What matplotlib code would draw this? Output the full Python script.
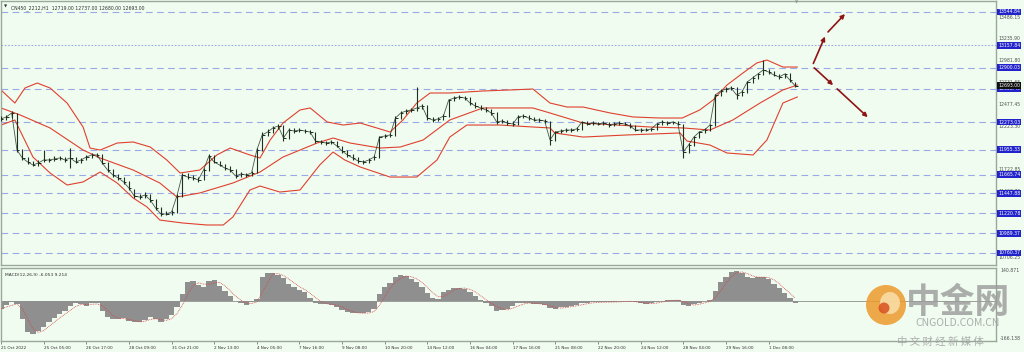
import numpy as np
import pandas as pd
import matplotlib
matplotlib.use('Agg')
import matplotlib.pyplot as plt
from matplotlib.patches import Ellipse

# values (H1 bars, one entry per bar)
header = 'CN450_2212,H1  12719.00 12737.00 12680.00 12693.00'
macd_title = 'MACD(12,26,9) -6.053 9.214'

close = [12309, 12332, 12378, 11950, 11858, 11812, 11777, 11800, 11835, 11835,
         11846, 11858, 11835, 11858, 11812, 11835, 11869, 11893, 11893, 11800,
         11719, 11661, 11627, 11581, 11511, 11419, 11407, 11430, 11373, 11280,
         11211, 11211, 11234, 11419, 11661, 11638, 11627, 11604, 11719, 11881,
         11812, 11777, 11742, 11719, 11650, 11673, 11661, 11685, 11950, 12124,
         12158, 12205, 12228, 12089, 12181, 12170, 12181, 12170, 12158, 12054,
         12043, 12031, 12043, 11997, 11939, 11893, 11858, 11823, 11812, 11835,
         11869, 12100, 12112, 12124, 12320, 12378, 12401, 12413, 12436, 12459,
         12320, 12297, 12309, 12343, 12528, 12551, 12563, 12551, 12493, 12459,
         12436, 12413, 12378, 12274, 12285, 12262, 12251, 12332, 12343, 12320,
         12297, 12297, 12285, 12066, 12158, 12170, 12181, 12181, 12193, 12274,
         12251, 12262, 12251, 12262, 12239, 12251, 12262, 12251, 12228, 12181,
         12181, 12181, 12193, 12251, 12274, 12262, 12274, 12251, 11927, 12008,
         12100, 12158, 12181, 12239, 12586, 12632, 12655, 12667, 12586, 12620,
         12736, 12782, 12828, 12875, 12852, 12817, 12794, 12828, 12759, 12693]

high = [12345, 12360, 12400, 12380, 11960, 11870, 11820, 11830, 11950, 11860,
        11880, 11880, 11870, 11973, 11865, 11860, 11895, 11920, 11915, 11900,
        11810, 11730, 11670, 11640, 11590, 11500, 11440, 11460, 11440, 11380,
        11290, 11240, 11260, 11440, 11680, 11680, 11660, 11640, 11740, 11900,
        11890, 11820, 11790, 11760, 11730, 11700, 11690, 11710, 11970, 12160,
        12190, 12230, 12255, 12240, 12200, 12200, 12205, 12195, 12185, 12160,
        12070, 12060, 12065, 12050, 12000, 11945, 11900, 11865, 11840, 11860,
        11890, 12115, 12135, 12150, 12340, 12400, 12425, 12440, 12678, 12480,
        12465, 12330, 12330, 12365, 12545, 12575, 12585, 12575, 12560, 12500,
        12470, 12445, 12420, 12385, 12310, 12295, 12280, 12350, 12365, 12350,
        12330, 12320, 12310, 12290, 12175, 12190, 12200, 12205, 12215, 12290,
        12280, 12280, 12275, 12280, 12270, 12270, 12285, 12275, 12260, 12235,
        12200, 12205, 12210, 12265, 12295, 12285, 12290, 12280, 12255, 12030,
        12115, 12175, 12200, 12255, 12600, 12650, 12675, 12690, 12675, 12640,
        12750, 12800, 12845, 12990, 12885, 12860, 12830, 12845, 12835, 12737]

low = [12280, 12300, 12320, 11930, 11830, 11790, 11760, 11770, 11812, 11810,
       11820, 11830, 11815, 11742, 11795, 11800, 11830, 11860, 11870, 11790,
       11700, 11640, 11600, 11560, 11490, 11400, 11385, 11400, 11350, 11260,
       11190, 11195, 11205, 11225, 11410, 11620, 11600, 11585, 11600, 11710,
       11795, 11760, 11720, 11700, 11630, 11640, 11640, 11655, 11680, 11940,
       12110, 12150, 12195, 12060, 12080, 12150, 12160, 12150, 12140, 12030,
       12020, 12010, 12020, 11980, 11920, 11875, 11840, 11805, 11790, 11805,
       11830, 11860, 12085, 12095, 12115, 12310, 12370, 12390, 12400, 12425,
       12300, 12275, 12285, 12300, 12335, 12520, 12540, 12530, 12475, 12440,
       12415, 12395, 12360, 12250, 12260, 12240, 12230, 12245, 12320, 12300,
       12280, 12275, 12265, 12008, 12060, 12145, 12160, 12160, 12170, 12185,
       12235, 12240, 12235, 12240, 12220, 12230, 12240, 12235, 12210, 12165,
       12160, 12165, 12170, 12185, 12245, 12245, 12255, 12235, 11858, 11915,
       12000, 12090, 12150, 12170, 12230, 12575, 12620, 12640, 12540, 12575,
       12610, 12725, 12770, 12820, 12830, 12800, 12775, 12785, 12740, 12680]

upper_x = [0, 2.6, 4.5, 6.8, 9.2, 12.4, 15.4, 16.7, 18.6, 21.8, 24.8, 28.0,
           31.1, 33.6, 37.3, 40.5, 43.0, 46.7, 48.6, 50.5, 52.9, 56.1, 58.0,
           61.2, 64.2, 67.4, 70.5, 73.0, 75.4, 78.0, 80.5, 84.2, 90.4, 95.5,
           99.8, 103.0, 106.2, 109.2, 114.3, 118.6, 123.6, 127.8, 131.1,
           133.6, 136.2, 139.2, 141.8, 143.7, 146.7, 149.4]
upper = [12644, 12493, 12667, 12724, 12667, 12493, 12216, 11973, 11950, 12031,
         12043, 11985, 11835, 11685, 11719, 11893, 11973, 11893, 11858, 12066,
         12262, 12413, 12436, 12274, 12239, 12262, 12205, 12158, 12297, 12493,
         12609, 12609, 12632, 12644, 12655, 12493, 12447, 12447, 12378, 12332,
         12320, 12320, 12413, 12528, 12701, 12840, 12956, 12990, 12909, 12909]

mid_x = [0, 3.6, 9.2, 15.4, 18.6, 24.8, 29.8, 33.0, 37.3, 43.5, 48.6, 52.9,
         59.3, 62.3, 65.5, 71.1, 74.9, 79.2, 84.2, 90.4, 99.8, 103.0, 109.2,
         115.6, 121.8, 128.0, 133.0, 137.3, 142.4, 146.7, 149.4]
mid = [12436, 12355, 12205, 11950, 11858, 11719, 11569, 11407, 11454, 11569,
       11696, 11869, 12031, 12089, 12031, 11973, 11985, 12066, 12297, 12436,
       12436, 12378, 12262, 12239, 12216, 12205, 12181, 12297, 12493, 12644,
       12701]

lower_x = [0, 2.6, 6.0, 9.2, 12.4, 15.4, 18.6, 21.8, 24.8, 27.4, 29.8, 34.1,
           38.6, 41.7, 43.5, 46.7, 48.6, 52.3, 56.1, 59.8, 62.3, 64.5, 67.4,
           73.0, 78.0, 81.8, 84.2, 87.4, 93.6, 99.8, 103.0, 103.9, 109.2,
           117.4, 127.4, 128.7, 133.0, 136.2, 141.1, 143.7, 146.7, 149.4]
lower = [12239, 12297, 11869, 11685, 11546, 11581, 11696, 11569, 11396, 11292,
         11141, 11107, 11084, 11084, 11176, 11488, 11534, 11465, 11488, 11777,
         11927, 11835, 11754, 11638, 11638, 11835, 12100, 12239, 12239, 12216,
         12205, 12147, 12100, 12124, 12147, 12054, 12008, 11916, 11893, 12066,
         12493, 12563]

macd = [-31, -15, -3, -12, -75, -130, -138, -122, -108, -85,
        -68, -54, -38, -18, -8, -12, -17, -6, -8, -40,
        -65, -73, -72, -70, -84, -88, -85, -76, -66, -75,
        -88, -75, -55, -24, 30, 80, 87, 70, 62, 85,
        89, 66, 45, 22, 2, -8, -13, -4, 10, 105,
        120, 121, 110, 97, 75, 62, 50, 38, 15, -5,
        -10, -12, -13, -22, -35, -45, -48, -50, -50, -45,
        -32, 30, 60, 78, 105, 111, 106, 95, 84, 60,
        35, 15, 10, 38, 50, 58, 57, 54, 42, 25,
        5, -8, -17, -40, -35, -30, -20, -8, -5, -6,
        -10, -12, -15, -28, -30, -25, -22, -18, -15, -8,
        -5, -4, -3, -2, -3, -2, 0, 2, 0, -4,
        -8, -10, -8, -2, 3, 5, 6, 5, -15, -18,
        -12, -5, 0, 5, 45, 80, 105, 125, 130, 118,
        105, 100, 102, 105, 95, 75, 55, 35, 15, -6]

levels = [13544.84, 13157.84, 12900.03, 12658.49, 12273.03, 11955.33,
          11665.74, 11447.88, 11220.78, 10989.37, 10760.37]
grid_prices = [13486.15, 13235.90, 12981.80, 12731.65, 12477.45, 12223.30,
               11722.85, 11468.70, 10706.25]
last_price = 12693.00

time_labels = ['21 Oct 2022', '25 Oct 05:00', '26 Oct 17:00', '28 Oct 09:00',
               '31 Oct 21:00', '2 Nov 13:00', '4 Nov 05:00', '7 Nov 16:00',
               '9 Nov 08:00', '10 Nov 20:00', '14 Nov 12:00', '16 Nov 04:00',
               '17 Nov 16:00', '21 Nov 08:00', '22 Nov 20:00', '24 Nov 12:00',
               '28 Nov 04:00', '29 Nov 16:00', '1 Dec 08:00']
bars_per_label = 8

# forecast arrows: start, middle, end
arrow_up_x = [152.2, 154.8, 158.7]
arrow_up_y = [12921, 13291, 13544.84]
arrow_dn_x = [152.2, 156.5, 163.0]
arrow_dn_y = [12921, 12678, 12308]

bg = '#f0fcf0'
fig = plt.figure(figsize=(10.24, 3.52), dpi=100, facecolor=bg)
W, H = 1024.0, 352.0

ax = fig.add_axes([1 / W, 1 - 265 / H, 995 / W, 264 / H], facecolor=bg)
ax2 = fig.add_axes([1 / W, 1 - 341 / H, 995 / W, 73 / H], facecolor=bg)

xs = np.arange(len(close))
xmax = 995 / 5.33
ax.set_xlim(0, xmax)
ax.set_ylim(10621.7, 13671.9)

for p in levels:
    ls = (0, (1.5, 1.5)) if p == 13157.84 else (0, (6, 4))
    ax.axhline(p, color='#98aae6', lw=0.8, ls=ls, zorder=1)

band_col = '#e0402e'
ax.plot(upper_x, upper, color=band_col, lw=0.8, zorder=2)
ax.plot(mid_x, mid, color=band_col, lw=0.8, zorder=2)
ax.plot(lower_x, lower, color=band_col, lw=0.8, zorder=2)

# price bars: high-low line plus close tick, and a thin line through closes
price_col = '#1d301d'
ax.vlines(xs, low, high, color=price_col, lw=0.8, zorder=3)
ax.hlines(close, xs, xs + 0.45, color=price_col, lw=0.7, zorder=3)
ax.plot(xs, close, color=price_col, lw=0.6, alpha=0.8, zorder=3)

arrow_kw = dict(arrowstyle='-|>', color='#8e1414', lw=1.2, mutation_scale=6)
for px, py in [(arrow_up_x, arrow_up_y), (arrow_dn_x, arrow_dn_y)]:
    for k in range(2):
        ax.annotate('', xy=(px[k + 1], py[k + 1]), xytext=(px[k], py[k]),
                    arrowprops=arrow_kw, zorder=4)

ax.set_xticks([])
ax.set_yticks([])
for s in ax.spines.values():
    s.set_color('#9aa89a')
    s.set_linewidth(1.0)

# right price scale
ytr = ax.get_yaxis_transform()
for p in grid_prices:
    ax.text(1.002, p, f'{p:.2f}', transform=ytr, fontsize=3.3, color='#505050',
            va='center', ha='left', clip_on=False)
for p in levels:
    ax.text(1.002, p, f'{p:.2f}', transform=ytr, fontsize=3.3, color='white',
            va='center', ha='left', clip_on=False,
            bbox=dict(boxstyle='square,pad=0.2', fc='#2323cc', ec='none'))
ax.text(1.002, last_price, f'{last_price:.2f}', transform=ytr, fontsize=3.3,
        color='white', va='center', ha='left', clip_on=False,
        bbox=dict(boxstyle='square,pad=0.2', fc='#101010', ec='none'))

ax.text(0.003, 0.985, '\u25bc', transform=ax.transAxes, fontsize=3, va='top', color='#303030')
ax.text(0.010, 0.985, header, transform=ax.transAxes, fontsize=3.3, va='top', color='#303030')

# MACD panel
macd_s = pd.Series(macd, dtype=float)
signal = macd_s.rolling(3, min_periods=1).mean()
ax2.bar(xs, macd, width=1.0, color='#8f8f8f', edgecolor='none', zorder=2)
ax2.plot(xs, signal, color='#d24a4a', lw=0.6, ls=(0, (1, 1)), zorder=3)
ax2.axhline(0, color='#8f8f8f', lw=0.6, zorder=1)
ax2.set_xlim(0, xmax)
ax2.set_ylim(-166.138, 140.871)
ax2.set_yticks([])
for s in ax2.spines.values():
    s.set_color('#9aa89a')
    s.set_linewidth(1.0)
ax2.text(0.004, 0.93, macd_title, transform=ax2.transAxes, fontsize=3.2, va='top', color='#303030')
ytr2 = ax2.get_yaxis_transform()
ax2.text(1.004, 140.871, '140.871', transform=ytr2, fontsize=3.3, color='#505050',
         va='top', ha='left', clip_on=False)
ax2.text(1.004, -166.138, '-166.138', transform=ytr2, fontsize=3.3, color='#505050',
         va='bottom', ha='left', clip_on=False)

ticks = np.arange(len(time_labels)) * bars_per_label
ax2.set_xticks(ticks)
ax2.set_xticklabels(time_labels, fontsize=3.0, color='#303030', ha='left')
ax2.tick_params(axis='x', length=2.5, width=0.5, color='#606060', pad=0.8)

# watermark
fig.add_artist(Ellipse((886 / W, 1 - 305 / H), 40 / W, 40 / H, transform=fig.transFigure,
                       fc='#ec9a2c', ec='none', alpha=0.85))
fig.add_artist(Ellipse((890 / W, 1 - 303 / H), 20 / W, 22 / H, transform=fig.transFigure,
                       fc='#fbe3b0', ec='none', alpha=0.8))
fig.add_artist(Ellipse((884 / W, 1 - 308 / H), 11 / W, 11 / H, transform=fig.transFigure,
                       fc='#d8501e', ec='none', alpha=0.85))
cjk = ['Noto Sans CJK SC', 'DejaVu Sans']
fig.text(958 / W, 1 - 302 / H, '中金网', family=cjk, fontsize=25, fontweight='bold',
         color='#9a9a9a', alpha=0.8, ha='center', va='center')
fig.text(958 / W, 1 - 323 / H, 'CNGOLD.COM.CN', family=cjk, fontsize=7.5,
         color='#a0a0a0', alpha=0.85, ha='center', va='center')
fig.text(940 / W, 1 - 342 / H, '中 文 财 经 新 媒 体', family=cjk, fontsize=7.5,
         color='#a0a0a0', alpha=0.85, ha='center', va='center')

fig.text(797 / W, 1 - 1 / H, '\u25bc', fontsize=3, color='#909090', ha='center', va='top')

fig.savefig('out.png', dpi=100, facecolor=bg)
